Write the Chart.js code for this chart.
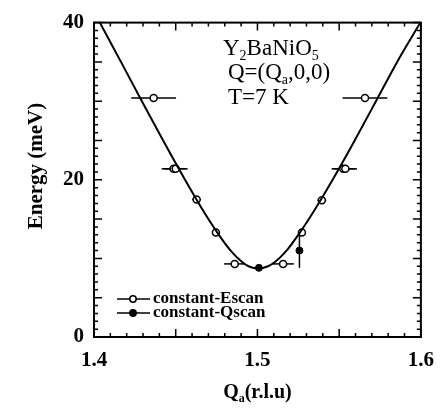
<!DOCTYPE html>
<html>
<head>
<meta charset="utf-8">
<script src="https://cdn.jsdelivr.net/npm/chart.js@4/dist/chart.umd.min.js"></script>
<style>
  body { margin: 0; background: #fff; }
  #wrap { width: 445px; height: 410px; position: relative; }
</style>
</head>
<body>
<div id="wrap"><canvas id="chart"></canvas></div>
<script>
// ===== DATA =====
// fitted dispersion curve
const curveQ = [1.4036, 1.4165, 1.4293, 1.4423, 1.4557, 1.4670, 1.4764, 1.4836, 1.4908, 1.4945, 1.5005,
                1.5065, 1.5105, 1.5178, 1.5250, 1.5345, 1.5460, 1.5595, 1.5725, 1.5855, 1.5997];
const curveE = [40, 35, 30, 25, 20, 16, 13, 11, 9.5, 9.0, 8.7,
                9.0, 9.5, 11, 13, 16, 20, 25, 30, 35, 40];

// constant-E scans (open circles)
const escanQ    = [1.4365, 1.4487, 1.4500, 1.4628, 1.4746, 1.4861, 1.5157, 1.5272, 1.5394, 1.5525, 1.5538, 1.5658];
const escanE    = [30.4, 21.4, 21.4, 17.5, 13.3, 9.3, 9.3, 13.3, 17.4, 21.4, 21.4, 30.4];
const escanQErr = [0.0137, 0.0073, 0.0073, 0.0027, 0, 0.0065, 0.0066, 0, 0.0027, 0.0071, 0.0071, 0.0137];

// constant-Q scans (filled circles)
const qscanQ    = [1.5009, 1.5257];
const qscanE    = [8.8, 11.0];
const qscanQErr = [0.003, 0];
const qscanEErr = [0, 2.2];

const xTickLabels = [1.4, 1.5, 1.6];
const yTickLabels = [0, 20, 40];

const SERIF = "'Liberation Serif', 'DejaVu Serif', serif";

const toPts = (xs, ys) => xs.map((x, i) => ({ x, y: ys[i] }));

// ===== FRAME, INNER TICKS, ERROR BARS, TEXT =====
const decor = {
  id: "decor",
  beforeDatasetsDraw(chart) {
    const { ctx, scales: { x, y } } = chart;
    ctx.save();
    ctx.strokeStyle = "#000";
    ctx.lineWidth = 1.5;
    const bars = (qs, es, qe, ee) => qs.forEach((q, i) => {
      const px = x.getPixelForValue(q), py = y.getPixelForValue(es[i]);
      if (qe[i]) {
        ctx.beginPath();
        ctx.moveTo(x.getPixelForValue(q - qe[i]), py);
        ctx.lineTo(x.getPixelForValue(q + qe[i]), py);
        ctx.stroke();
      }
      if (ee && ee[i]) {
        ctx.beginPath();
        ctx.moveTo(px, y.getPixelForValue(es[i] - ee[i]));
        ctx.lineTo(px, y.getPixelForValue(es[i] + ee[i]));
        ctx.stroke();
      }
    });
    bars(escanQ, escanE, escanQErr, null);
    bars(qscanQ, qscanE, qscanQErr, qscanEErr);
    ctx.restore();
  },
  afterDraw(chart) {
    const { ctx, chartArea: a, scales: { x, y } } = chart;
    ctx.save();
    ctx.strokeStyle = "#000";
    ctx.fillStyle = "#000";

    // ticks pointing inward on all four sides
    ctx.lineWidth = 1.5;
    for (let i = 0; i <= 20; i++) {
      const px = x.getPixelForValue(1.4 + i * 0.01);
      const len = i % 5 === 0 ? 8 : 4;
      ctx.beginPath();
      ctx.moveTo(px, a.bottom); ctx.lineTo(px, a.bottom - len);
      ctx.moveTo(px, a.top); ctx.lineTo(px, a.top + len);
      ctx.stroke();
    }
    for (let i = 0; i <= 40; i++) {
      const py = y.getPixelForValue(i);
      const len = i % 5 === 0 ? 8 : 4;
      ctx.beginPath();
      ctx.moveTo(a.left, py); ctx.lineTo(a.left + len, py);
      ctx.moveTo(a.right, py); ctx.lineTo(a.right - len, py);
      ctx.stroke();
    }
    ctx.lineWidth = 2;
    ctx.strokeRect(a.left, a.top, a.right - a.left, a.bottom - a.top);

    // text with subscripts
    const runs = (x0, base, parts, size, weight) => {
      let cx = x0;
      parts.forEach(([t, sub]) => {
        ctx.font = weight + " " + (sub ? Math.round(size * 0.62) : size) + "px " + SERIF;
        ctx.fillText(t, cx, base + (sub ? size * 0.2 : 0));
        cx += ctx.measureText(t).width;
      });
      return cx - x0;
    };
    ctx.textAlign = "left";
    ctx.textBaseline = "alphabetic";
    runs(223, 55, [["Y", 0], ["2", 1], ["BaNiO", 0], ["5", 1]], 23, "normal");
    runs(228, 79, [["Q=(Q", 0], ["a", 1], [",0,0)", 0]], 23, "normal");
    runs(228, 104, [["T=7 K", 0]], 23, "normal");

    // x axis title, centred under the plot
    const xt = [["Q", 0], ["a", 1], ["(r.l.u)", 0]];
    ctx.globalAlpha = 0;
    const tw = runs(0, 0, xt, 20, "bold");
    ctx.globalAlpha = 1;
    runs((a.left + a.right) / 2 - tw / 2, 398, xt, 20, "bold");

    // y axis title
    ctx.save();
    ctx.translate(37, 166);
    ctx.rotate(-Math.PI / 2);
    ctx.textAlign = "center";
    ctx.textBaseline = "middle";
    ctx.font = "bold 21px " + SERIF;
    ctx.fillText("Energy (meV)", 0, 0);
    ctx.restore();

    // legend
    const legend = [["constant-Escan", false, 299], ["constant-Qscan", true, 313]];
    legend.forEach(([label, filled, ly]) => {
      ctx.lineWidth = 1.5;
      ctx.beginPath();
      ctx.moveTo(117, ly); ctx.lineTo(150, ly);
      ctx.stroke();
      ctx.beginPath();
      ctx.arc(133, ly, 3.2, 0, Math.PI * 2);
      ctx.fillStyle = filled ? "#000" : "#fff";
      ctx.fill();
      ctx.stroke();
      ctx.fillStyle = "#000";
      ctx.font = "bold 17px " + SERIF;
      ctx.textBaseline = "middle";
      ctx.fillText(label, 153, ly);
    });
    ctx.restore();
  }
};

new Chart(document.getElementById("chart"), {
  type: "scatter",
  data: {
    datasets: [
      {
        data: toPts(curveQ, curveE),
        showLine: true,
        borderColor: "#000",
        borderWidth: 2,
        pointRadius: 0,
        cubicInterpolationMode: "monotone"
      },
      {
        data: toPts(escanQ, escanE),
        pointRadius: 3.5,
        pointBorderWidth: 1.5,
        pointBorderColor: "#000",
        pointBackgroundColor: "#fff"
      },
      {
        data: toPts(qscanQ, qscanE),
        pointRadius: 3.5,
        pointBorderWidth: 1,
        pointBorderColor: "#000",
        pointBackgroundColor: "#000"
      }
    ]
  },
  options: {
    responsive: true,
    maintainAspectRatio: false,
    animation: false,
    clip: false,
    layout: { padding: { top: 17, right: 22, left: 0, bottom: 0 } },
    plugins: { legend: { display: false }, tooltip: { enabled: false } },
    scales: {
      x: {
        type: "linear",
        min: 1.4, max: 1.6,
        afterFit: s => { s.height = 73; },
        afterBuildTicks: s => { s.ticks = xTickLabels.map(v => ({ value: v })); },
        grid: { display: false, drawTicks: false },
        border: { display: false },
        ticks: {
          padding: 11,
          color: "#000",
          font: { family: SERIF, size: 21, weight: "bold" },
          callback: v => v.toFixed(1)
        }
      },
      y: {
        min: 0, max: 40,
        afterFit: s => { s.width = 94; },
        afterBuildTicks: s => { s.ticks = yTickLabels.map(v => ({ value: v })); },
        grid: { display: false, drawTicks: false },
        border: { display: false },
        ticks: {
          padding: 10,
          color: "#000",
          font: { family: SERIF, size: 21, weight: "bold" }
        }
      }
    }
  },
  plugins: [decor]
});
</script>
</body>
</html>
